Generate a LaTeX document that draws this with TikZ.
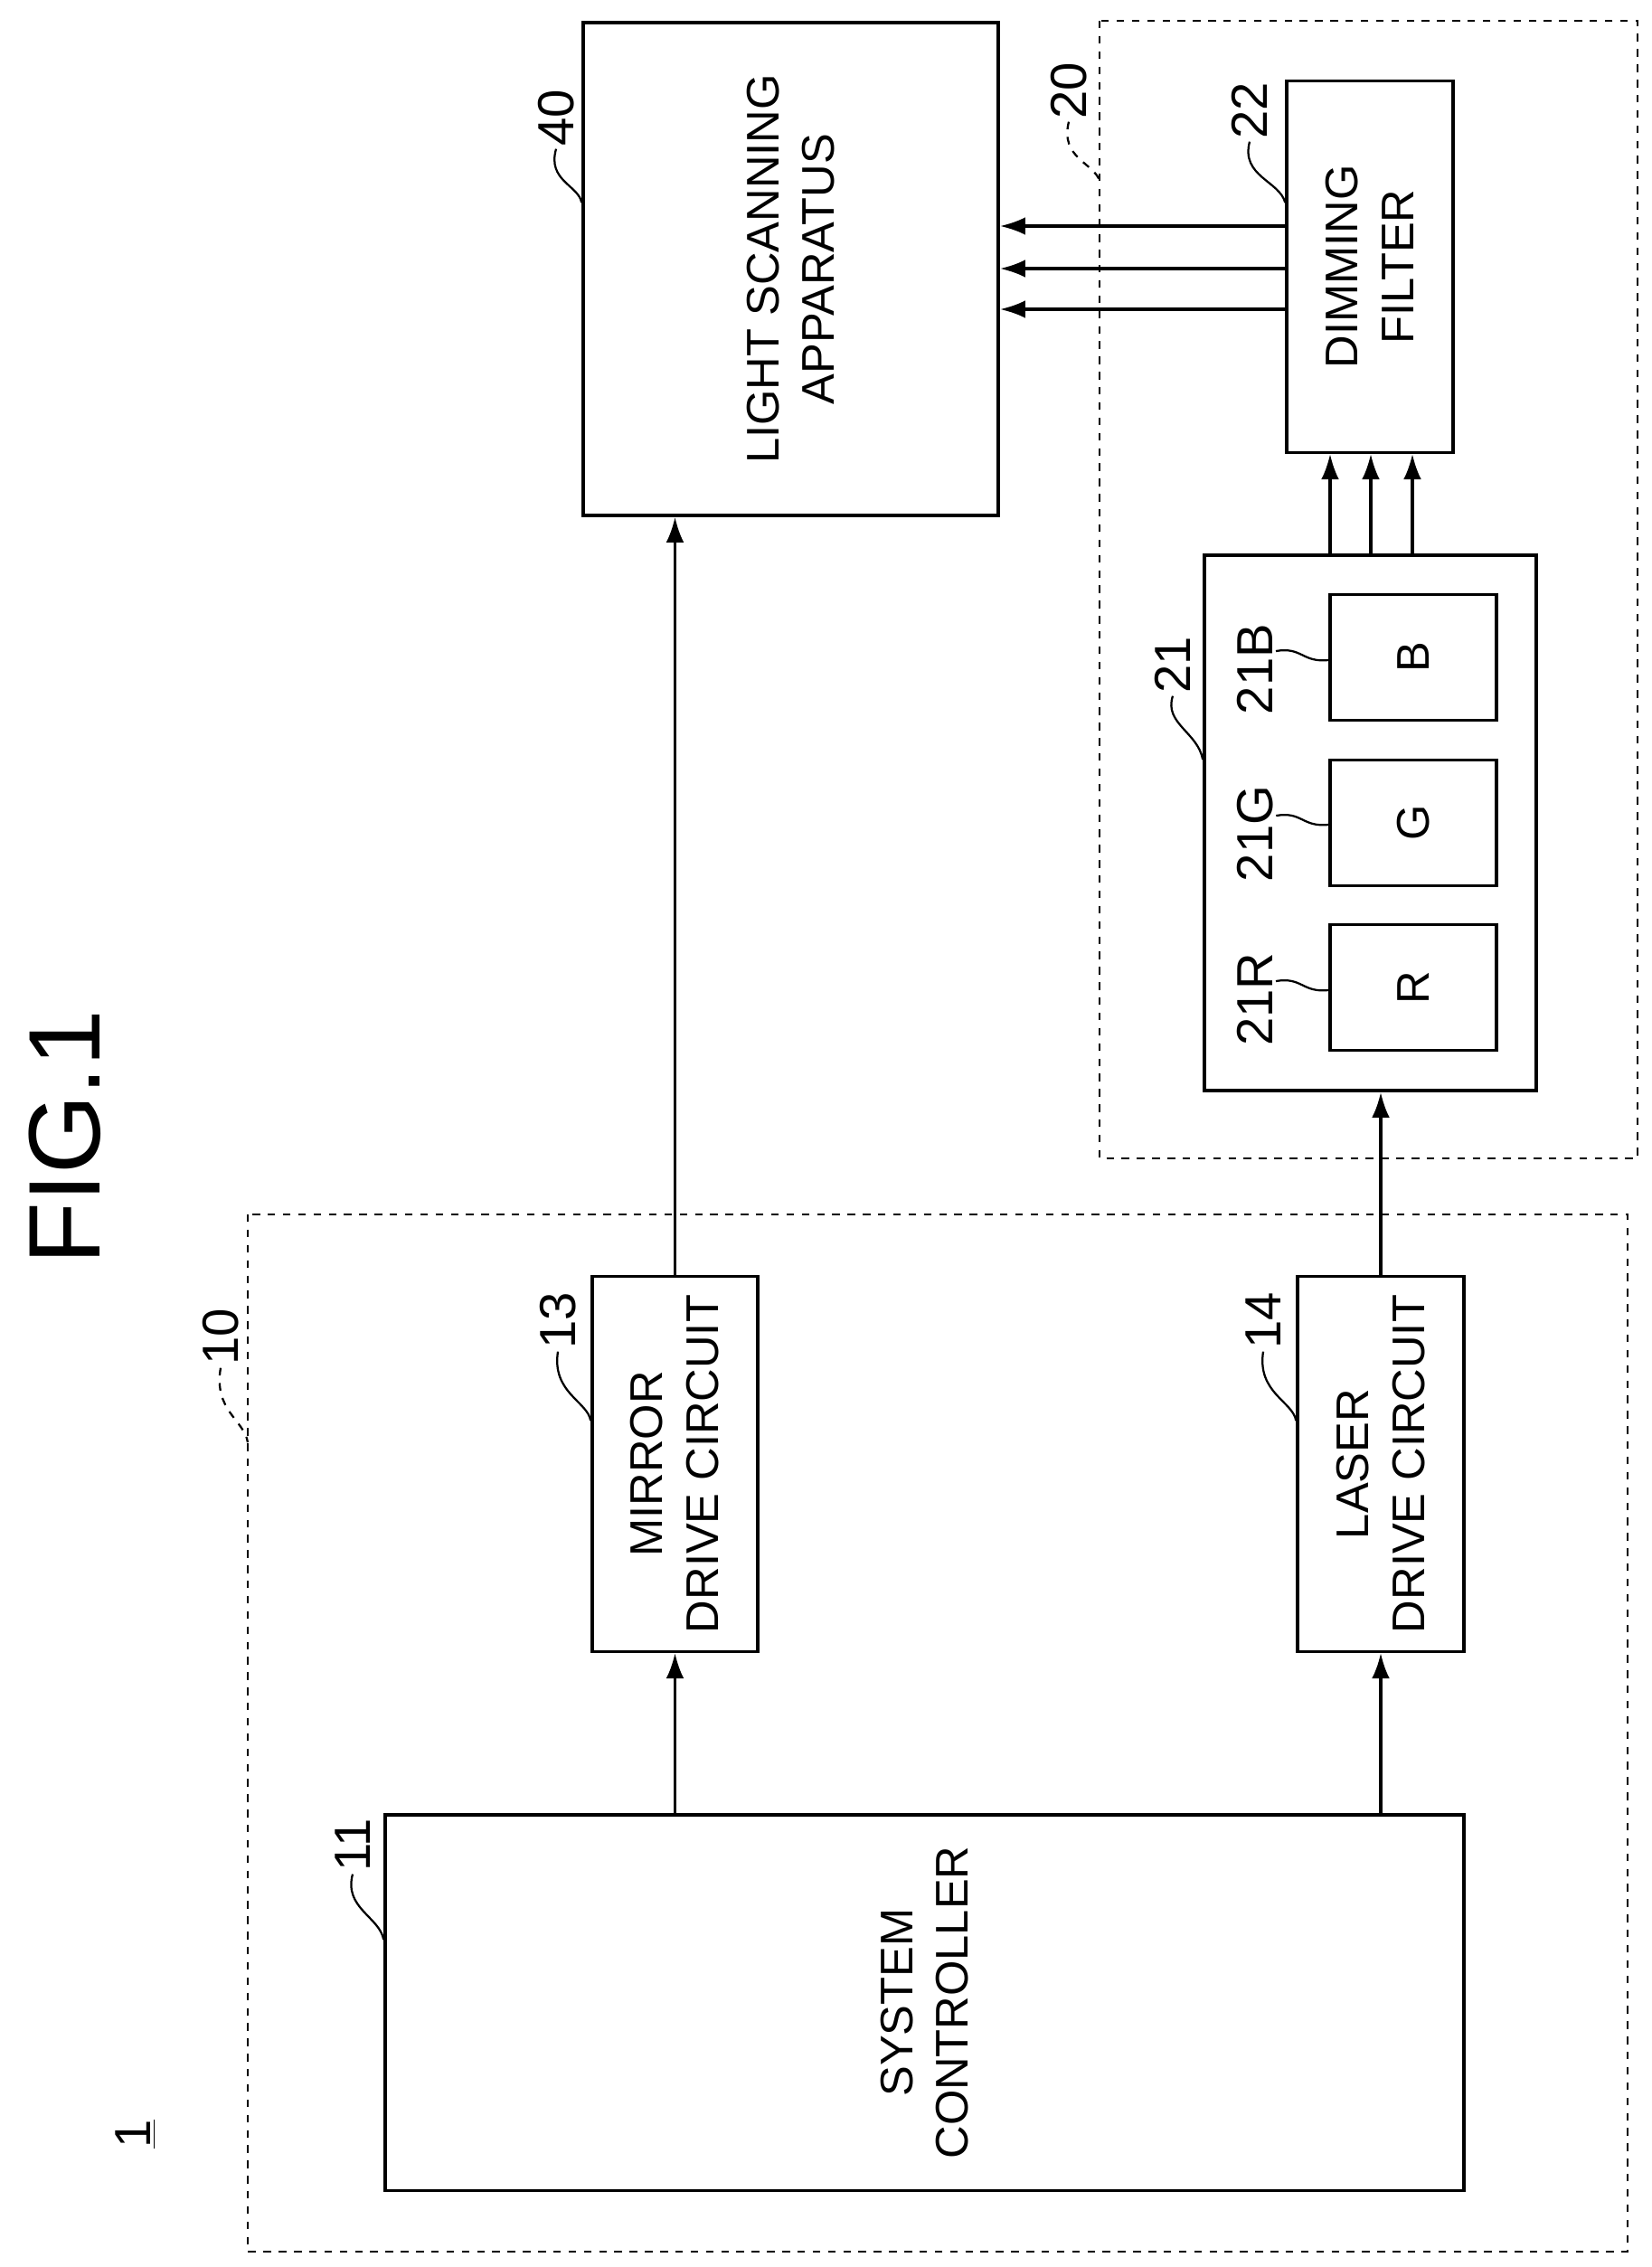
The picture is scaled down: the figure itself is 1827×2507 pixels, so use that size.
\documentclass[tikz,border=0pt]{standalone}
\usepackage{fontspec}
\setmainfont{Liberation Sans}
\usetikzlibrary{arrows.meta}
\begin{document}
\begin{tikzpicture}[x=0.0125cm, y=-0.0125cm,
    box/.style={draw, line width=1.2pt, inner sep=0pt},
    txt/.style={rotate=90, align=center, font=\fontsize{18}{22}\selectfont},
    num/.style={rotate=90, font=\fontsize{20}{24}\selectfont, inner sep=1pt},
    frame/.style={draw, dashed, line width=1pt},
    arr/.style={-{Latex[length=10pt,width=7pt]}, line width=1.2pt},
    lead/.style={line width=0.8pt}]
    \useasboundingbox (0,0) rectangle (1827,2507);

    % dashed groups
    \draw[frame] (274,1343) rectangle (1800,2490);
    \draw[frame] (1216,23) rectangle (1811,1281);

    % blocks
    \node[box, minimum width=14.91cm, minimum height=5.19cm] (sc) at (1022.5,2214.5) {};
    \node[txt] at (sc) {SYSTEM\\CONTROLLER};
    \node[box, minimum width=2.29cm, minimum height=5.18cm] (mdc) at (746.5,1619) {};
    \node[txt] at (mdc) {MIRROR\\DRIVE CIRCUIT};
    \node[box, minimum width=2.3cm, minimum height=5.18cm] (ldc) at (1527,1619) {};
    \node[txt] at (ldc) {LASER\\DRIVE CIRCUIT};
    \node[box, minimum width=5.74cm, minimum height=6.81cm] (lsa) at (874.5,297.5) {};
    \node[txt] at (lsa) {LIGHT SCANNING\\APPARATUS};
    \node[box, minimum width=4.59cm, minimum height=7.4cm] (src) at (1515.5,910) {};
    \node[box, minimum width=2.3cm, minimum height=1.73cm] (red) at (1563,1092) {};
    \node[txt] at (red) {R};
    \node[box, minimum width=2.3cm, minimum height=1.73cm] (grn) at (1563,910) {};
    \node[txt] at (grn) {G};
    \node[box, minimum width=2.3cm, minimum height=1.73cm] (blu) at (1563,727) {};
    \node[txt] at (blu) {B};
    \node[box, minimum width=2.3cm, minimum height=5.13cm] (flt) at (1515,295) {};
    \node[txt] at (flt) {DIMMING\\FILTER};

    % connectors
    \draw[arr] (sc.north -| mdc) -- (mdc.south);
    \draw[arr] (sc.north -| ldc) -- (ldc.south);
    \draw[arr] (mdc.north) -- (mdc.north |- lsa.south);
    \draw[arr] (ldc.north) -- (ldc.north |- src.south);
    \foreach \x in {1471,1516,1562}
        \draw[arr] (src.north -| \x,0) -- (flt.south -| \x,0);
    \foreach \y in {250,297,342}
        \draw[arr] (flt.west |- 0,\y) -- (lsa.east |- 0,\y);

    % reference numerals
    \node[rotate=90, font=\fontsize{40}{44}\selectfont] (fig) at (72,1258) {FIG.1};
    \node[num] (n1) at (150,2360) {\underline{1}};
    \node[num] (n11) at (390,2040) {11};
    \node[num] (n13) at (617,1460) {13};
    \node[num] (n14) at (1397,1460) {14};
    \node[num] (n40) at (615,130) {40};
    \node[num] (n20) at (1182,100) {20};
    \node[num] (n10) at (244,1478) {10};
    \node[num] (n21) at (1297,735) {21};
    \node[num] (n22) at (1382,122) {22};
    \node[num] (n21R) at (1388,1105) {21R};
    \node[num] (n21G) at (1388,922) {21G};
    \node[num] (n21B) at (1388,740) {21B};

    \draw[lead] (n11.west) .. controls (380,2110) and (420,2120) .. (sc.west |- 0,2145);
    \draw[lead] (n13.west) .. controls (610,1540) and (650,1550) .. (mdc.west |- 0,1571);
    \draw[lead] (n14.west) .. controls (1390,1540) and (1430,1550) .. (ldc.west |- 0,1571);
    \draw[lead] (n40.west) .. controls (605,200) and (640,205) .. (lsa.west |- 0,224);
    \draw[lead, dashed] (n20.west) .. controls (1172,175) and (1210,180) .. (1216,200);
    \draw[lead, dashed] (n10.west) .. controls (236,1560) and (270,1570) .. (274,1595);
    \draw[lead] (n21.west) .. controls (1287,800) and (1325,810) .. (src.west |- 0,840);
    \draw[lead] (n22.west) .. controls (1372,195) and (1415,200) .. (flt.west |- 0,224);
    \draw[lead] (n21R.south |- 0,1085) .. controls (1440,1080) and (1440,1098) .. (red.west |- 0,1095);
    \draw[lead] (n21G.south |- 0,902) .. controls (1440,897) and (1440,915) .. (grn.west |- 0,912);
    \draw[lead] (n21B.south |- 0,720) .. controls (1440,715) and (1440,733) .. (blu.west |- 0,730);
\end{tikzpicture}
\end{document}
